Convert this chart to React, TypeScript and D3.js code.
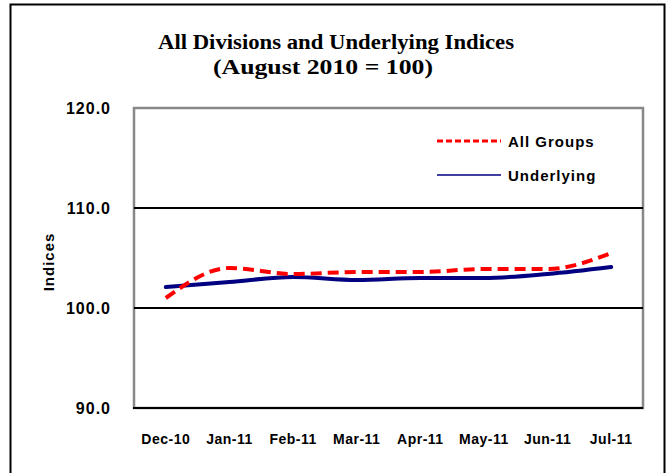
import * as d3 from "d3";
import { useEffect, useRef } from "react";

const months = ["Dec-10", "Jan-11", "Feb-11", "Mar-11", "Apr-11", "May-11", "Jun-11", "Jul-11"];
const allGroups = [101.0, 104.0, 103.4, 103.6, 103.6, 103.9, 103.9, 105.5];
const underlying = [102.1, 102.6, 103.1, 102.8, 103.0, 103.0, 103.4, 104.1];
const yTicks = [90, 100, 110, 120];
const gridValues = [100, 110];

export default function App() {
  const ref = useRef<SVGSVGElement | null>(null);

  useEffect(() => {
    if (!ref.current) return;
    const svg = d3.select(ref.current);
    svg.selectAll("*").remove();

    const width = 669;
    const height = 473;
    const margin = { top: 108, right: 26, bottom: 65, left: 134 };

    svg.append("rect").attr("width", width).attr("height", height).attr("fill", "#fff");
    // outer chart border
    svg
      .append("rect")
      .attr("x", 10.5)
      .attr("y", 4.5)
      .attr("width", 654)
      .attr("height", 480)
      .attr("fill", "none")
      .attr("stroke", "#000")
      .attr("stroke-width", 2);

    const x = d3
      .scalePoint()
      .domain(months)
      .range([margin.left, width - margin.right])
      .padding(0.5);

    const y = d3
      .scaleLinear()
      .domain([90, 120])
      .range([height - margin.bottom, margin.top]);

    const x0 = margin.left;
    const x1 = width - margin.right;

    // plot area frame
    svg
      .append("rect")
      .attr("x", x0)
      .attr("y", y(120))
      .attr("width", x1 - x0)
      .attr("height", y(90) - y(120))
      .attr("fill", "none")
      .attr("stroke", "#888")
      .attr("stroke-width", 2.5);

    svg
      .append("g")
      .selectAll("line")
      .data(gridValues)
      .join("line")
      .attr("x1", x0)
      .attr("x2", x1)
      .attr("y1", (d) => y(d))
      .attr("y2", (d) => y(d))
      .attr("stroke", "#000")
      .attr("stroke-width", 2);

    // bottom axis line
    svg
      .append("line")
      .attr("x1", x0 - 1)
      .attr("x2", x1)
      .attr("y1", y(90))
      .attr("y2", y(90))
      .attr("stroke", "#000")
      .attr("stroke-width", 2);

    const font = "'Liberation Sans', Arial, sans-serif";

    svg
      .append("g")
      .selectAll("text")
      .data(yTicks)
      .join("text")
      .attr("x", 111)
      .attr("y", (d) => y(d) + 6)
      .attr("text-anchor", "end")
      .attr("font-family", font)
      .attr("font-weight", "bold")
      .attr("font-size", 16)
      .attr("letter-spacing", 1)
      .text((d) => d.toFixed(1));

    svg
      .append("g")
      .selectAll("text")
      .data(months)
      .join("text")
      .attr("x", (d) => x(d)!)
      .attr("y", 444)
      .attr("text-anchor", "middle")
      .attr("font-family", font)
      .attr("font-weight", "bold")
      .attr("font-size", 14)
      .attr("letter-spacing", 0.5)
      .text((d) => d);

    svg
      .append("text")
      .attr("transform", `translate(54,262) rotate(-90)`)
      .attr("text-anchor", "middle")
      .attr("font-family", font)
      .attr("font-weight", "bold")
      .attr("font-size", 15)
      .attr("letter-spacing", 1)
      .text("Indices");

    const titleFont = "'Liberation Serif', 'Times New Roman', serif";
    svg
      .append("text")
      .attr("x", 158)
      .attr("y", 49)
      .attr("font-family", titleFont)
      .attr("font-weight", "bold")
      .attr("font-size", 20)
      .attr("textLength", 356)
      .attr("lengthAdjust", "spacingAndGlyphs")
      .text("All Divisions and Underlying Indices");
    svg
      .append("text")
      .attr("x", 213)
      .attr("y", 74)
      .attr("font-family", titleFont)
      .attr("font-weight", "bold")
      .attr("font-size", 20)
      .attr("textLength", 220)
      .attr("lengthAdjust", "spacingAndGlyphs")
      .text("(August 2010 = 100)");

    const line = d3
      .line<number>()
      .x((_, i) => x(months[i])!)
      .y((d) => y(d))
      .curve(d3.curveMonotoneX);

    svg
      .append("path")
      .datum(underlying)
      .attr("d", line)
      .attr("fill", "none")
      .attr("stroke", "#000080")
      .attr("stroke-width", 4)
      .attr("stroke-linecap", "round");

    svg
      .append("path")
      .datum(allGroups)
      .attr("d", line)
      .attr("fill", "none")
      .attr("stroke", "#ff0000")
      .attr("stroke-width", 4)
      .attr("stroke-dasharray", "11,6");

    // legend
    const legend = [
      { name: "All Groups", color: "#ff0000", dash: "6,3", w: 3, y: 141 },
      { name: "Underlying", color: "#000080", dash: null, w: 1.5, y: 175 },
    ];
    const lg = svg.append("g");
    legend.forEach((l) => {
      lg.append("line")
        .attr("x1", 437)
        .attr("x2", 501)
        .attr("y1", l.y)
        .attr("y2", l.y)
        .attr("stroke", l.color)
        .attr("stroke-width", l.w)
        .attr("stroke-dasharray", l.dash);
      lg.append("text")
        .attr("x", 508)
        .attr("y", l.y + 6)
        .attr("font-family", font)
        .attr("font-weight", "bold")
        .attr("font-size", 15)
        .attr("letter-spacing", 1)
        .text(l.name);
    });
  }, []);

  return (
    <svg
      ref={ref}
      width={669}
      height={473}
      style={{ position: "absolute", left: 0, top: 0 }}
    />
  );
}
